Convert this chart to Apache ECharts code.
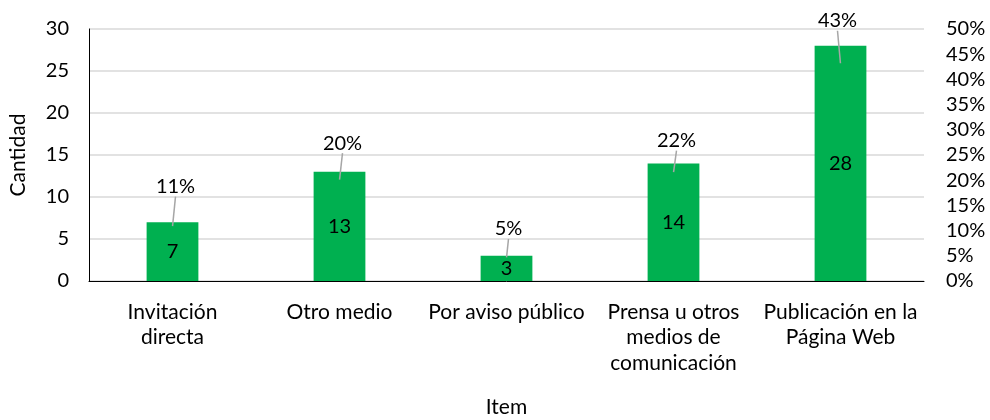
<!DOCTYPE html>
<html><head><meta charset="utf-8">
<script src="https://cdn.jsdelivr.net/npm/echarts@6/dist/echarts.min.js"></script>
<style>html,body{margin:0;padding:0;background:#fff}#c{width:990px;height:420px}</style>
</head><body><div id="c"></div>
<script>
var categories = ['Invitación\ndirecta', 'Otro medio', 'Por aviso público', 'Prensa u otros\nmedios de\ncomunicación', 'Publicación en la\nPágina Web'];
var counts = [7, 13, 3, 14, 28];
var shares = [0.108, 0.20, 0.046, 0.215, 0.431];
var leftTicks = {min: 0, max: 30, interval: 5};
var rightTicks = {min: 0, max: 0.5, interval: 0.05};

var FONT = 'Lato';
var FS = 20;
var labelDy = [-40, -37, -29, -32, -43];
var labelDx = [3, 3, 2, 3, -3];
var chart = echarts.init(document.getElementById('c'), null, {renderer: 'canvas'});
chart.setOption({
  animation: false,
  textStyle: {fontFamily: FONT, color: '#000'},
  grid: {left: 89, right: 66, top: 29, bottom: 139, outerBoundsMode: 'none', containLabel: false},
  xAxis: {
    type: 'category', data: categories,
    name: 'Item', nameLocation: 'middle', nameGap: 116,
    nameTextStyle: {fontFamily: FONT, fontSize: 21, color: '#000'},
    axisLine: {lineStyle: {color: '#000', width: 1}},
    axisTick: {show: false},
    axisLabel: {interval: 0, fontFamily: FONT, fontSize: 21, color: '#000', lineHeight: 25.5, margin: 18}
  },
  yAxis: [{
    type: 'value', min: leftTicks.min, max: leftTicks.max, interval: leftTicks.interval,
    name: 'Cantidad', nameLocation: 'middle', nameGap: 60, nameRotate: 90,
    nameTextStyle: {fontFamily: FONT, fontSize: 21, color: '#000'},
    axisLine: {show: true, lineStyle: {color: '#000'}},
    axisTick: {show: false},
    axisLabel: {fontFamily: FONT, fontSize: FS, color: '#000', margin: 20},
    splitLine: {lineStyle: {color: '#d9d9d9', width: 1.5}}
  }, {
    type: 'value', min: rightTicks.min, max: rightTicks.max, interval: rightTicks.interval,
    position: 'right',
    axisLine: {show: false}, axisTick: {show: false},
    axisLabel: {fontFamily: FONT, fontSize: FS, color: '#000', margin: 22,
      formatter: function (v) { return Math.round(v * 100) + '%'; }},
    splitLine: {show: false}
  }],
  series: [{
    type: 'bar', data: counts, barWidth: '31%',
    itemStyle: {color: '#00B050'},
    label: {show: true, position: 'inside', fontFamily: FONT, fontSize: FS, color: '#000'}
  }, {
    type: 'scatter', yAxisIndex: 1, data: shares, symbolSize: 1,
    itemStyle: {color: 'rgba(0,0,0,0)'},
    label: {show: true, position: 'inside', fontFamily: FONT, fontSize: FS, color: '#000',
      opacity: 1, textBorderWidth: 0,
      formatter: function (p) { return Math.round(p.value * 100) + '%'; }},
    labelLine: {show: true, lineStyle: {color: '#a6a6a6', width: 1.5}},
    labelLayout: function (p) { return {dy: labelDy[p.dataIndex], dx: labelDx[p.dataIndex]}; }
  }]
});
</script></body></html>
